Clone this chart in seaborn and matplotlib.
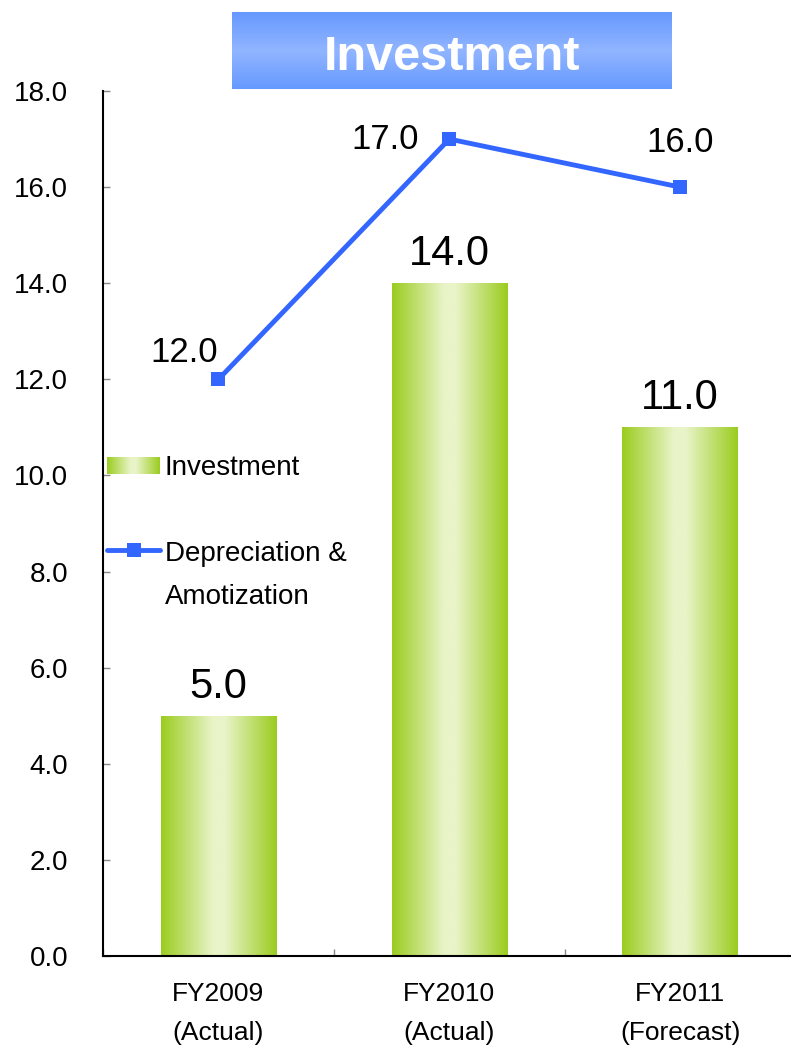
import numpy as np
import pandas as pd
import matplotlib
matplotlib.use("Agg")
import matplotlib.pyplot as plt
from matplotlib.colors import LinearSegmentedColormap
from matplotlib.patches import Patch
from matplotlib.lines import Line2D
from matplotlib.legend_handler import HandlerLine2D
import seaborn as sns

# ---- data ----
categories = ["FY2009\n(Actual)", "FY2010\n(Actual)", "FY2011\n(Forecast)"]
investment = [5.0, 14.0, 11.0]
depreciation = [12.0, 17.0, 16.0]
y_ticks = [0, 2, 4, 6, 8, 10, 12, 14, 16, 18]
title = "Investment"
series_names = ["Investment", "Depreciation &\nAmotization"]

# ---- style ----
sns.set_theme(style="white")
plt.rcParams["font.family"] = ["Liberation Sans", "DejaVu Sans"]
plt.rcParams["text.color"] = "black"

GREEN_EDGE = "#9BCC1F"
GREEN_MID = "#E9F4C8"
BLUE = "#3366FF"
green_cmap = LinearSegmentedColormap.from_list(
    "bar_green", [(0, GREEN_EDGE), (0.45, GREEN_MID), (0.55, GREEN_MID), (1, GREEN_EDGE)])
title_cmap = LinearSegmentedColormap.from_list(
    "title_blue", [(0, "#6699FF"), (0.5, "#91B5FF"), (1, "#6699FF")])

fig = plt.figure(figsize=(7.91, 10.48), dpi=100)
ax = fig.add_axes([103 / 791, 1 - 956 / 1048, 1 - 103 / 791, (956 - 91) / 1048])

df = pd.DataFrame({"period": categories, "investment": investment,
                   "depreciation": depreciation})

sns.barplot(data=df, x="period", y="investment", width=0.5, color=GREEN_EDGE,
            saturation=1, ax=ax, zorder=2)

# horizontal gradient fill clipped to each bar
hgrad = np.linspace(0, 1, 256)[None, :]
for bar in list(ax.patches):
    x0, y0 = bar.get_xy()
    w, h = bar.get_width(), bar.get_height()
    im = ax.imshow(hgrad, cmap=green_cmap, extent=[x0, x0 + w, y0, y0 + h],
                   aspect="auto", zorder=2.5, interpolation="bicubic")
    im.set_clip_path(bar)

sns.pointplot(data=df, x="period", y="depreciation", color=BLUE, markers="s",
              linestyles="-", markersize=10.5, linewidth=3.5, markeredgewidth=0,
              ax=ax, zorder=4)

ax.set_xlim(-0.5, 2.48)
ax.set_ylim(0, 18)
ax.set_xlabel("")
ax.set_ylabel("")

# value labels on bars
for i, v in enumerate(investment):
    ax.annotate(f"{v:.1f}", xy=(i, v), xytext=(0, 29), textcoords="offset pixels",
                ha="center", va="center", fontsize=30, color="black", zorder=5)

# value labels on the line
line_offsets = [(-34, 27), (-64, 0), (0, 45)]
for i, (v, off) in enumerate(zip(depreciation, line_offsets)):
    ax.annotate(f"{v:.1f}", xy=(i, v), xytext=off, textcoords="offset pixels",
                ha="center", va="center", fontsize=25, color="black", zorder=5)

# axes styling
for side in ("top", "right"):
    ax.spines[side].set_visible(False)
for side in ("left", "bottom"):
    ax.spines[side].set_color("black")
    ax.spines[side].set_linewidth(1.5)

ax.set_yticks(y_ticks)
ax.set_yticklabels([f"{t:.1f}" for t in y_ticks])
ax.tick_params(axis="y", left=True, direction="in", length=5, width=1,
               color="#888888", pad=25, labelsize=20, labelcolor="black")
ax.set_xticks(range(len(categories)))
ax.set_xticklabels(categories)
ax.tick_params(axis="x", which="major", bottom=True, length=0, pad=19,
               labelsize=19, labelcolor="black")
ax.set_xticks([-0.5, 0.5, 1.5], minor=True)
ax.tick_params(axis="x", which="minor", bottom=True, direction="in", length=5,
               width=1, color="#888888")
for lbl in ax.get_xticklabels():
    lbl.set_linespacing(1.75)


class RaisedLineHandler(HandlerLine2D):
    def __init__(self, lift=0.0, **kw):
        super().__init__(**kw)
        self.lift = lift

    def create_artists(self, legend, orig_handle, xdescent, ydescent, width,
                       height, fontsize, trans):
        artists = super().create_artists(legend, orig_handle, xdescent, ydescent,
                                         width, height, fontsize, trans)
        for a in artists:
            a.set_ydata(np.asarray(a.get_ydata(), dtype=float) + self.lift)
        return artists


line_handle = Line2D([], [], color=BLUE, marker="s", markersize=10.5,
                     markeredgewidth=0, linewidth=3.5)
bar_handle = Patch(facecolor=GREEN_EDGE, edgecolor="none")
leg = ax.legend([bar_handle, line_handle], series_names, loc="upper left",
                bbox_to_anchor=(0.006, 0.579), frameon=False, fontsize=20,
                handlelength=1.9, handleheight=0.6, handletextpad=0.18,
                labelspacing=2.16, borderaxespad=0, borderpad=0,
                handler_map={line_handle: RaisedLineHandler(lift=19)})
for t in leg.get_texts():
    t.set_linespacing(1.82)
    t.set_color("black")

# title banner
tax = fig.add_axes([232 / 791, 1 - 89 / 1048, 440 / 791, 77 / 1048])
tax.imshow(np.linspace(0, 1, 256)[:, None], cmap=title_cmap, aspect="auto",
           extent=[0, 1, 0, 1], interpolation="bicubic")
tax.text(0.5, 0.247, title, color="white", fontsize=35, fontweight="bold",
         ha="center", va="baseline")
tax.set_xlim(0, 1)
tax.set_ylim(0, 1)
tax.axis("off")

# gradient fill for the legend's bar swatch
fig.canvas.draw()
bb = leg.legend_handles[0].get_window_extent().transformed(fig.transFigure.inverted())
lax = fig.add_axes([bb.x0, bb.y0, bb.width, bb.height])
lax.imshow(hgrad, cmap=green_cmap, aspect="auto", interpolation="bicubic")
lax.axis("off")

fig.savefig("out.png", dpi=100)
